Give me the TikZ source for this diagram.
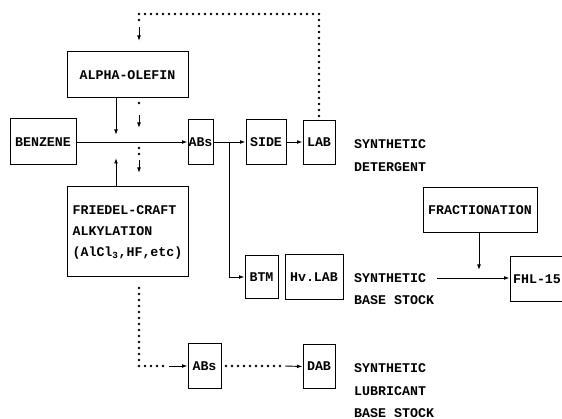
\documentclass[tikz,border=0pt]{standalone}
\usepackage{fontspec}
\newfontfamily\tw{Liberation Mono}
\usetikzlibrary{arrows.meta}
\begin{document}
\begin{tikzpicture}[x=1pt,y=-1pt,
  txt/.style={font=\tw\bfseries\fontsize{13.3}{21}\selectfont},
  box/.style={txt,draw,line width=1pt,inner sep=0pt},
  lbl/.style={txt,anchor=west,inner sep=0pt},
  arr/.style={line width=0.9pt,-{Latex[length=5.5pt,width=3.8pt]}},
  dots/.style={line width=2.8pt,line cap=round,dash pattern=on 0pt off 6pt}]
\useasboundingbox (0,0) rectangle (562,419);
\clip (0,0) rectangle (562,419);
\fill[white] (0,0) rectangle (562,419);
% boxes
\node[box,minimum width=121,minimum height=46] (alpha) at (127.5,75) {ALPHA-OLEFIN};
\node[box,minimum width=66,minimum height=46] (benz) at (43,142) {BENZENE};
\node[box,minimum width=25,minimum height=45] (abs1) at (200.5,142) {ABs};
\node[box,minimum width=40,minimum height=45] (side) at (266,142) {SIDE};
\node[box,minimum width=32,minimum height=44] (lab) at (319,142.5) {LAB};
\node[box,minimum width=121,minimum height=90,align=left] (friedel) at (127.5,232)
  {FRIEDEL-CRAFT\\ALKYLATION\\(AlCl\textsubscript{3},HF,etc)};
\node[box,minimum width=33,minimum height=43] (btm) at (261.5,277) {BTM};
\node[box,minimum width=58,minimum height=45] (hvlab) at (314,277.5) {Hv.LAB};
\node[box,minimum width=114,minimum height=45] (frac) at (480,210.5) {FRACTIONATION};
\node[box,minimum width=54,minimum height=45] (fhl) at (537,279.5) {FHL-15};
\node[box,minimum width=33,minimum height=45] (abs2) at (204.5,366) {ABs};
\node[box,minimum width=32,minimum height=43] (dab) at (319,366.5) {DAB};
% labels
\node[lbl] (s1) at (354,144) {SYNTHETIC};
\node[lbl] (d1) at (354,167) {DETERGENT};
\node[lbl] (s2) at (354,278) {SYNTHETIC};
\node[lbl] (b2) at (354,300) {BASE STOCK};
\node[lbl] (s3) at (354,368) {SYNTHETIC};
\node[lbl] (l3) at (354,391) {LUBRICANT};
\node[lbl] (b3) at (354,413) {BASE STOCK};
% coordinates
\coordinate (f1) at (116,135);
\coordinate (f2) at (116,158);
\coordinate (br) at (229,142);
\coordinate (fr) at (479,270);
\coordinate (ls) at (437,278);
\coordinate (u1) at (139,103);
\coordinate (u2) at (139,109);
\coordinate (u3) at (139,115);
\coordinate (u4) at (139,128);
\coordinate (l1) at (139,148);
\coordinate (l2) at (139,154);
\coordinate (l3) at (139,160);
\coordinate (l4) at (139,173);
\coordinate (t1) at (139,20);
\coordinate (t2) at (139,14);
\coordinate (t3) at (319,14);
\coordinate (t4) at (319,116);
\coordinate (t5) at (139,27);
\coordinate (t6) at (139,41);
\coordinate (q1) at (139,288);
\coordinate (q2) at (139,366);
\coordinate (q3) at (163,366);
\coordinate (q4) at (169,366);
\coordinate (r1) at (226,366);
\coordinate (r2) at (280,366);
\coordinate (r3) at (285,366);
% solid connectors
\draw[arr] (benz.east) -- (benz.east -| abs1.west);
\draw[arr] (abs1.east) -- (side.west);
\draw[arr] (side.east) -- (side.east -| lab.west);
\draw[arr] (br) |- (btm.west);
\draw[arr] (alpha.south -| f1) -- (f1);
\draw[arr] (friedel.north -| f2) -- (f2);
\draw[arr] (frac.south -| fr) -- (fr);
\draw[arr] (ls) -- (ls -| fhl.west);
% dotted connectors
\draw[dots] (u1) -- (u2);
\draw[arr] (u3) -- (u4);
\draw[dots] (l1) -- (l2);
\draw[arr] (l3) -- (l4);
\draw[dots] (t1) -- (t2) -- (t3) -- (t4);
\draw[arr] (t5) -- (t6);
\draw[dots] (q1) -- (q2) -- (q3);
\draw[arr] (q4) -- (abs2.west);
\draw[dots] (r1) -- (r2);
\draw[arr] (r3) -- (dab.west);
\end{tikzpicture}
\end{document}
